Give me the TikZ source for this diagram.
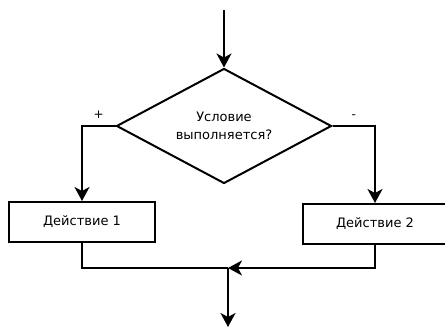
\documentclass[tikz,border=0pt]{standalone}
\usepackage{fontspec}
\setmainfont{DejaVu Sans}
\usetikzlibrary{arrows.meta,shapes.geometric}

\begin{document}
\begin{tikzpicture}[x=1pt,y=1pt,line width=2pt,
	flow/.style={-{Stealth[length=14pt,width=15pt,inset=4pt]}},
	ifbox/.style={diamond,draw,aspect=1.87,inner sep=0pt,minimum width=215pt,minimum height=115pt,align=center,font=\fontsize{13}{18}\selectfont},
	actbox/.style={rectangle,draw,minimum height=40pt,font=\fontsize{13}{15}\selectfont},
	branch/.style={above,yshift=3pt,font=\fontsize{12}{14}\selectfont}]
	\useasboundingbox (0,0) rectangle (445,328);
	\coordinate (start) at (224,318);
	\node[ifbox] (check) at (224,202) {Условие\\выполняется?};
	\node[actbox,minimum width=146pt] (act1) at (82,106) {Действие 1};
	\node[actbox,minimum width=144pt,minimum height=40pt] (act2) at (375,104) {Действие 2};
	\coordinate (merge) at (228,60);
	\coordinate (stop) at (228,1);
	\draw[flow] (start) -- (check.north);
	\draw[flow] (check.west) -| node[pos=0.25,branch] (yes) {+} (act1.north);
	\draw[flow] (check.east) -| node[pos=0.25,branch] (no) {-} (act2.north);
	\draw (act1.south) |- (merge);
	\draw[flow] (act2.south) |- (merge);
	\draw[flow] (merge) -- (stop);
\end{tikzpicture}
\end{document}
